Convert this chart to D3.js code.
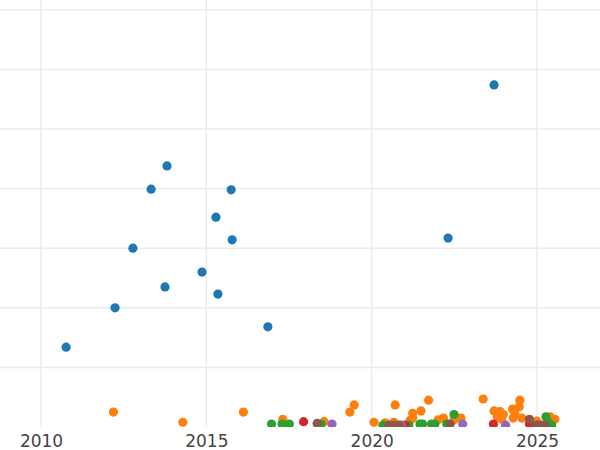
<!DOCTYPE html>
<html>
<head>
<meta charset="utf-8">
<script src="https://cdn.jsdelivr.net/npm/d3@7"></script>
<style>
  html, body { margin: 0; padding: 0; background: #fff; }
  svg { display: block; }
</style>
</head>
<body>
<svg id="chart" width="600" height="450"></svg>
<script>
// x = decimal year, y = value (arbitrary units, gridline step = 1)
const xTicks = [2010, 2015, 2020, 2025];
const yGrid = [1, 2, 3, 4, 5, 6, 7];

const blueX = [2010.76, 2012.24, 2012.78, 2013.33, 2013.75, 2013.81, 2014.87, 2015.29, 2015.35, 2015.75, 2015.78, 2016.86, 2022.31, 2023.70];
const blueY = [1.34, 2.00, 3.00, 3.99, 2.35, 4.38, 2.60, 3.52, 2.23, 3.98, 3.14, 1.68, 3.17, 5.74];

const orangeX = [2012.19, 2014.29, 2016.12, 2017.31, 2018.56, 2019.34, 2019.47, 2020.07, 2020.41, 2020.71, 2020.67, 2021.16, 2021.24, 2021.24, 2021.49, 2021.72, 2022.01, 2022.17, 2022.49, 2022.70, 2023.37, 2023.70, 2023.88, 2023.98, 2023.80, 2023.93, 2024.48, 2024.46, 2024.26, 2024.33, 2024.28, 2024.54, 2024.99, 2025.39, 2025.54];
const orangeY = [0.25, 0.08, 0.25, 0.13, 0.09, 0.25, 0.37, 0.08, 0.07, 0.37, 0.08, 0.11, 0.15, 0.23, 0.27, 0.45, 0.12, 0.15, 0.12, 0.15, 0.47, 0.27, 0.26, 0.21, 0.17, 0.13, 0.45, 0.34, 0.30, 0.23, 0.15, 0.15, 0.10, 0.17, 0.13];

const greenX = [2016.97, 2017.29, 2017.51, 2018.47, 2020.34, 2021.12, 2021.46, 2021.54, 2021.81, 2021.91, 2022.27, 2022.49, 2025.27, 2025.34, 2025.44];
const greenY = [0.05, 0.05, 0.05, 0.05, 0.03, 0.03, 0.05, 0.05, 0.05, 0.05, 0.05, 0.21, 0.17, 0.08, 0.03];

const redX = [2017.94, 2021.01, 2023.68, 2024.77];
const redY = [0.09, 0.03, 0.05, 0.05];

const purpleX = [2018.80, 2020.89, 2022.75, 2024.05];
const purpleY = [0.05, 0.03, 0.05, 0.03];

const brownX = [2018.35, 2020.52, 2020.67, 2020.83, 2022.37, 2024.77, 2024.99, 2025.14, 2025.24];
const brownY = [0.06, 0.03, 0.03, 0.03, 0.05, 0.13, 0.03, 0.03, 0.03];

const series = [
  { xs: blueX, ys: blueY, color: "#1f77b4" },
  { xs: orangeX, ys: orangeY, color: "#ff7f0e" },
  { xs: greenX, ys: greenY, color: "#2ca02c" },
  { xs: redX, ys: redY, color: "#d62728" },
  { xs: purpleX, ys: purpleY, color: "#9467bd" },
  { xs: brownX, ys: brownY, color: "#8c564b" }
];

const W = 600, H = 450;
const plotTop = 0, plotBottom = 427, plotLeft = 0, plotRight = 600;

const x = d3.scaleLinear()
  .domain([2010 - 41 / 33.07, 2010 + 559 / 33.07])
  .range([plotLeft, plotRight]);
const y = d3.scaleLinear()
  .domain([0, 427 / 59.6])
  .range([plotBottom, plotTop]);

const svg = d3.select("#chart");

svg.append("defs").append("clipPath").attr("id", "plotclip")
  .append("rect")
  .attr("x", plotLeft).attr("y", plotTop)
  .attr("width", plotRight - plotLeft).attr("height", plotBottom - plotTop);

const grid = svg.append("g");
grid.selectAll("line.h").data(yGrid).join("line")
  .attr("class", "h")
  .attr("x1", plotLeft).attr("x2", plotRight)
  .attr("y1", d => y(d)).attr("y2", d => y(d))
  .attr("stroke", "#ebebeb").attr("stroke-width", 1.5);
grid.selectAll("line.v").data(xTicks).join("line")
  .attr("class", "v")
  .attr("x1", d => x(d)).attr("x2", d => x(d))
  .attr("y1", plotTop).attr("y2", plotBottom)
  .attr("stroke", "#ebebeb").attr("stroke-width", 1.5);

// x axis labels via d3 axis
const xAxis = d3.axisBottom(x).tickValues(xTicks).tickFormat(d3.format("d")).tickSize(0).tickPadding(0);
const axG = svg.append("g").attr("transform", `translate(0, ${plotBottom})`).call(xAxis);
axG.select(".domain").remove();
axG.selectAll("text")
  .attr("dy", null)
  .attr("y", 19.5)
  .attr("fill", "#444")
  .attr("font-family", "DejaVu Sans, sans-serif")
  .attr("font-size", 17);

const dots = svg.append("g").attr("clip-path", "url(#plotclip)");
series.forEach(s => {
  const pts = s.xs.map((xv, i) => [xv, s.ys[i]]);
  dots.append("g").selectAll("circle").data(pts).join("circle")
    .attr("cx", d => x(d[0]))
    .attr("cy", d => y(d[1]))
    .attr("r", 4.6)
    .attr("fill", s.color);
});
</script>
</body>
</html>
